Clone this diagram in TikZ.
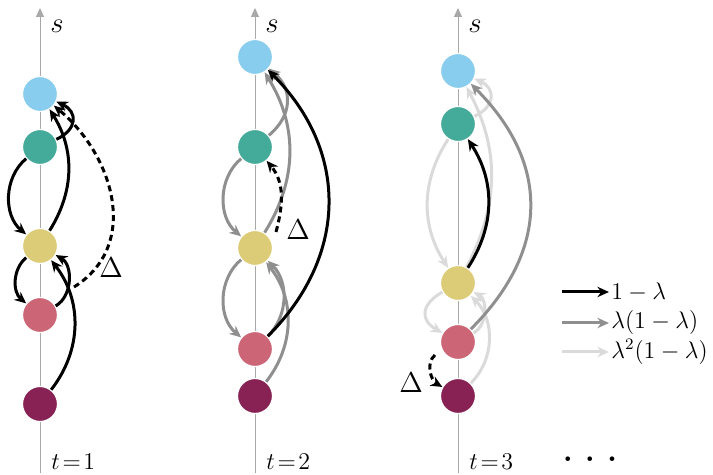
\documentclass[tikz,border=0pt]{standalone}
\usepackage{amsmath,amssymb}
\usepackage{tikz}
\usetikzlibrary{arrows.meta,positioning,calc}
\definecolor{Sky}{HTML}{88CCEE}
\definecolor{Teal}{HTML}{44AA99}
\definecolor{Sand}{HTML}{DDCC77}
\definecolor{Rose}{HTML}{CC6677}
\definecolor{Wine}{HTML}{882255}
\definecolor{AxisGray}{HTML}{A8A8A8}
\definecolor{MidGray}{HTML}{8F8F8F}
\definecolor{LightGray}{HTML}{DADADA}
\tikzset{
  >={Stealth[length=5.8pt,width=5.2pt]},
  st/.style={circle,draw=white,line width=.6pt,minimum size=17.5pt,inner sep=0pt},
  skyst/.style={st,fill=Sky},
  tealst/.style={st,fill=Teal},
  sandst/.style={st,fill=Sand},
  rosest/.style={st,fill=Rose},
  winest/.style={st,fill=Wine},
  axisline/.style={-{Triangle[length=4.5pt,width=4pt]},draw=AxisGray,line width=.5pt},
  newedge/.style={->,line width=1.5pt,draw=black},
  prevedge/.style={newedge,draw=MidGray},
  oldedge/.style={newedge,draw=LightGray},
  dashedge/.style={newedge,dash pattern=on 3pt off 2pt},
  lab/.style={font=\fontsize{12}{14}\selectfont,inner sep=1pt},
  biglab/.style={lab,font=\fontsize{14}{16}\selectfont}
}
\begin{document}
\begin{tikzpicture}[x=.5pt,y=.5pt]
  \useasboundingbox (0,0) rectangle (713,475);
  % time axes
  \foreach \ax/\t in {40/1,255/2,458/3}{
    \draw[axisline] (\ax,2) -- (\ax,467);
    \node[biglab] at (\ax+17,449) {$s$};
    \node[lab,anchor=west] at (\ax+9,13) {$t\!=\!\t$};
  }

  % t = 1
  \node[skyst] (sky1) at (40,381) {};
  \node[tealst] (teal1) at (40,328) {};
  \node[sandst] (sand1) at (40,229) {};
  \node[rosest] (rose1) at (40,160) {};
  \node[winest] (wine1) at (40,71) {};
  \draw[newedge] (teal1) to[bend right=50] (sand1);
  \draw[newedge] (sand1) to[bend right=50] (rose1);
  \draw[newedge] (sand1) to[bend right=32] (sky1);
  \draw[newedge] (teal1) to[bend right=65,looseness=1.6] (sky1);
  \draw[newedge] (rose1) to[bend right=60] (sand1);
  \draw[newedge] (wine1) to[bend right=38] (sand1);
  \coordinate (d1) at (74,188);
  \draw[dashedge] (d1) to[out=32,in=-40,looseness=1.1] (sky1);
  \node[biglab] (delta1) at (111,207) {$\Delta$};

  % t = 2
  \node[skyst] (sky2) at (255,418) {};
  \node[tealst] (teal2) at (255,328) {};
  \node[sandst] (sand2) at (255,227) {};
  \node[rosest] (rose2) at (255,126) {};
  \node[winest] (wine2) at (255,79) {};
  \draw[prevedge] (teal2) to[bend right=50] (sand2);
  \draw[prevedge] (sand2) to[bend right=50] (rose2);
  \draw[prevedge] (sand2) to[bend right=32] (sky2);
  \draw[prevedge] (teal2) to[bend right=50,looseness=1.2] (sky2);
  \draw[prevedge] (rose2) to[bend right=45] (sand2);
  \draw[prevedge] (wine2) to[bend right=38] (sand2);
  \draw[newedge] (rose2) to[bend right=45,looseness=1.1] (sky2);
  \coordinate (d2) at (276,243);
  \draw[dashedge] (d2) to[out=75,in=-50] (teal2);
  \node[biglab] (delta2) at (298,245) {$\Delta$};

  % t = 3
  \node[skyst] (sky3) at (458,404) {};
  \node[tealst] (teal3) at (458,351) {};
  \node[sandst] (sand3) at (458,192) {};
  \node[rosest] (rose3) at (458,133) {};
  \node[winest] (wine3) at (458,79) {};
  \draw[oldedge] (teal3) to[bend right=33] (sand3);
  \draw[oldedge] (sand3) to[bend right=60,looseness=1.6] (rose3);
  \draw[oldedge] (sand3) to[bend right=28] (sky3);
  \draw[oldedge] (teal3) to[bend right=65,looseness=1.6] (sky3);
  \draw[oldedge] (rose3) to[bend right=60] (sand3);
  \draw[oldedge] (wine3) to[bend right=45] (sand3);
  \draw[prevedge] (rose3) to[bend right=45,looseness=1.17] (sky3);
  \draw[newedge] (sand3) to[bend right=33] (teal3);
  \coordinate (d3) at (435,120);
  \draw[dashedge] (d3) to[out=220,in=150] (wine3);
  \node[biglab] (delta3) at (411,92) {$\Delta$};

  % legend
  \node[lab,anchor=west] (key1) at (609,183) {$1-\lambda$};
  \node[lab,anchor=west] (key2) at (609,152) {$\lambda(1-\lambda)$};
  \node[lab,anchor=west] (key3) at (609,123) {$\lambda^2(1-\lambda)$};
  \coordinate (k1) at (562,183);
  \coordinate (k2) at (562,152);
  \coordinate (k3) at (562,123);
  \draw[newedge] (k1) -- (key1);
  \draw[prevedge] (k2) -- (key2);
  \draw[oldedge] (k3) -- (key3);
  \node[lab,font=\fontsize{16}{18}\selectfont\bfseries] (more) at (590,16) {.\hspace{6pt}.\hspace{6pt}.};
\end{tikzpicture}
\end{document}
